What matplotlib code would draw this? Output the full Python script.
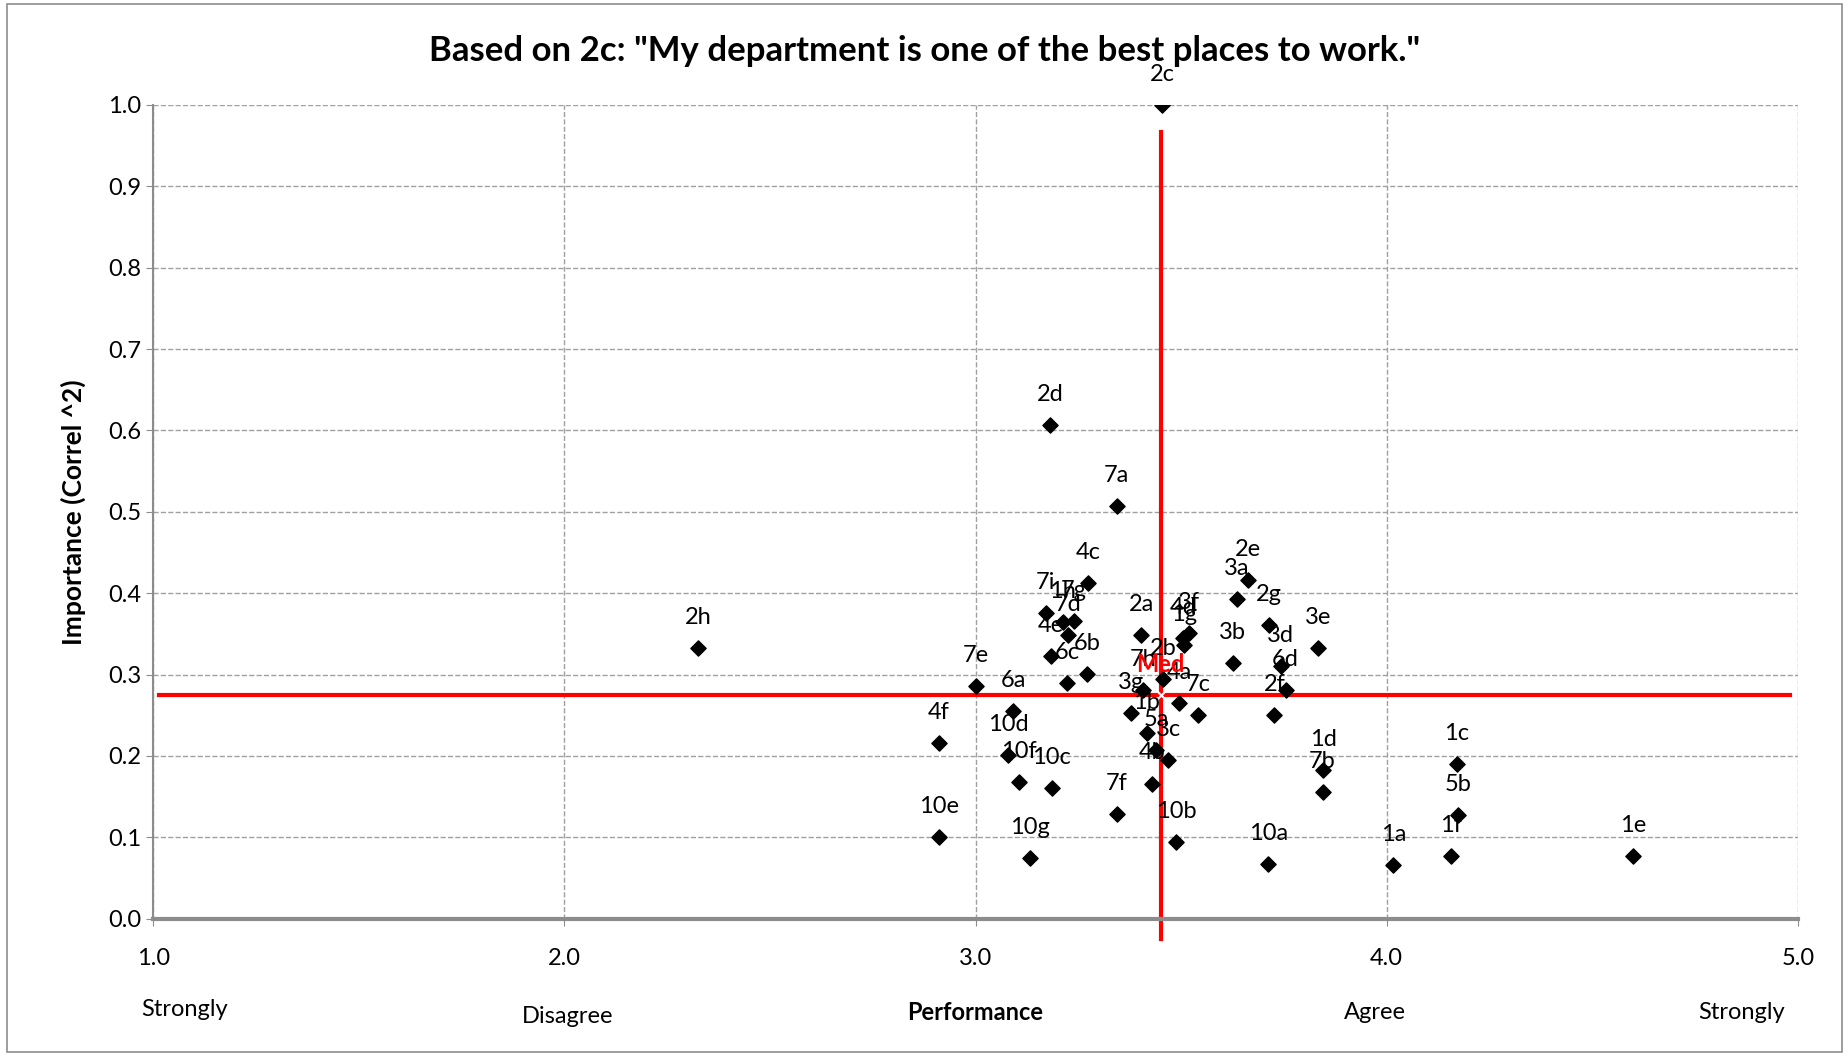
from matplotlib import pyplot as plt
import matplotlib.patches as mpatches

plt.rcParams['font.family'] = ['Lato', 'DejaVu Sans']

labels = ["2c", "2d", "7a", "4c", "2e", "3a", "2g", "3e", "3b", "3d", "6d", "2f",
          "1d", "7b", "1c", "5b", "1f", "1a", "10a", "1e", "10b", "7f", "10g", "10e",
          "4f", "10c", "10f", "10d", "6a", "7e", "2h", "4b", "3c", "5a", "1b", "3g",
          "7c", "4a", "7h", "2b", "3f", "4d", "1g", "2a", "7i", "1h", "7g", "7d",
          "4e", "6c", "6b"]
performance = [3.454, 3.182, 3.343, 3.274, 3.663, 3.636, 3.714, 3.833, 3.625, 3.742, 3.754, 3.727,
               3.845, 3.844, 4.170, 4.174, 4.156, 4.016, 3.712, 4.599, 3.488, 3.343, 3.132, 2.910,
               2.910, 3.185, 3.106, 3.080, 3.092, 3.001, 2.325, 3.430, 3.469, 3.440, 3.416, 3.378,
               3.541, 3.495, 3.408, 3.456, 3.520, 3.505, 3.508, 3.403, 3.171, 3.212, 3.240, 3.226,
               3.183, 3.222, 3.272]
importance = [1.000, 0.607, 0.507, 0.413, 0.416, 0.393, 0.361, 0.332, 0.314, 0.310, 0.281, 0.250,
              0.183, 0.155, 0.190, 0.127, 0.077, 0.066, 0.067, 0.077, 0.094, 0.128, 0.074, 0.100,
              0.216, 0.160, 0.168, 0.201, 0.255, 0.286, 0.333, 0.166, 0.195, 0.207, 0.228, 0.253,
              0.250, 0.265, 0.281, 0.294, 0.351, 0.345, 0.336, 0.348, 0.375, 0.365, 0.366, 0.349,
              0.323, 0.290, 0.301]

med_x = 3.45
med_y = 0.275

fig = plt.figure(figsize=(18.49, 10.56), dpi=100)
fig.patches.append(mpatches.Rectangle((0.004, 0.004), 0.992, 0.992, transform=fig.transFigure,
                                      fill=False, edgecolor='#8c8c8c', linewidth=1.2))
ax = fig.add_axes([0.0828, 0.1301, 0.8896, 0.7705])

ax.scatter(performance, importance, marker='D', s=60, color='black', zorder=3)
for lab, x, y in zip(labels, performance, importance):
    ax.annotate(lab, (x, y), xytext=(0, 22), textcoords='offset points',
                ha='center', va='center', fontsize=17, zorder=4)

# median cross
ax.plot([med_x, med_x], [-0.025, 0.967], color='red', linewidth=3, clip_on=False, zorder=2)
ax.plot([1.015, 4.98], [med_y, med_y], color='red', linewidth=3, clip_on=False, zorder=2)
ax.scatter([med_x], [med_y], marker='x', s=40, color='white', linewidths=1.5, zorder=3)
ax.annotate("Med", (med_x, med_y), xytext=(0, 22), textcoords='offset points',
            ha='center', va='center', fontsize=17, color='red', fontweight='bold', zorder=5)

ax.set_xlim(1, 5)
ax.set_ylim(0, 1)
ax.set_xticks([1, 2, 3, 4, 5])
ax.set_xticklabels(["1.0", "2.0", "3.0", "4.0", "5.0"])
ax.set_yticks([i / 10 for i in range(11)])
ax.set_yticklabels(["%.1f" % (i / 10) for i in range(11)])
ax.tick_params(axis='both', labelsize=17, color='#8c8c8c', length=5)
ax.tick_params(axis='x', pad=16)
ax.grid(True, linestyle='--', color='#a0a0a0', linewidth=1)
ax.set_axisbelow(True)
for side in ['top', 'right']:
    ax.spines[side].set_visible(False)
ax.spines['left'].set_color('#8c8c8c')
ax.spines['left'].set_linewidth(1.5)
ax.spines['bottom'].set_color('#8c8c8c')
ax.spines['bottom'].set_linewidth(3)

ax.set_ylabel("Importance (Correl ^2)", fontsize=19, fontweight='bold', labelpad=16)
fig.text(0.5, 0.952, 'Based on 2c: "My department is one of the best places to work."',
         ha='center', va='center', fontsize=25, fontweight='bold')

trans = ax.get_xaxis_transform()
ax.text(1.077, -0.112, "Strongly", transform=trans, ha='center', va='center', fontsize=17)
ax.text(2.009, -0.12, "Disagree", transform=trans, ha='center', va='center', fontsize=17)
ax.text(2.999, -0.115, "Performance", transform=trans, ha='center', va='center',
        fontsize=17, fontweight='bold')
ax.text(3.971, -0.116, "Agree", transform=trans, ha='center', va='center', fontsize=17)
ax.text(4.862, -0.115, "Strongly", transform=trans, ha='center', va='center', fontsize=17)

plt.savefig('out.png', dpi=100)
